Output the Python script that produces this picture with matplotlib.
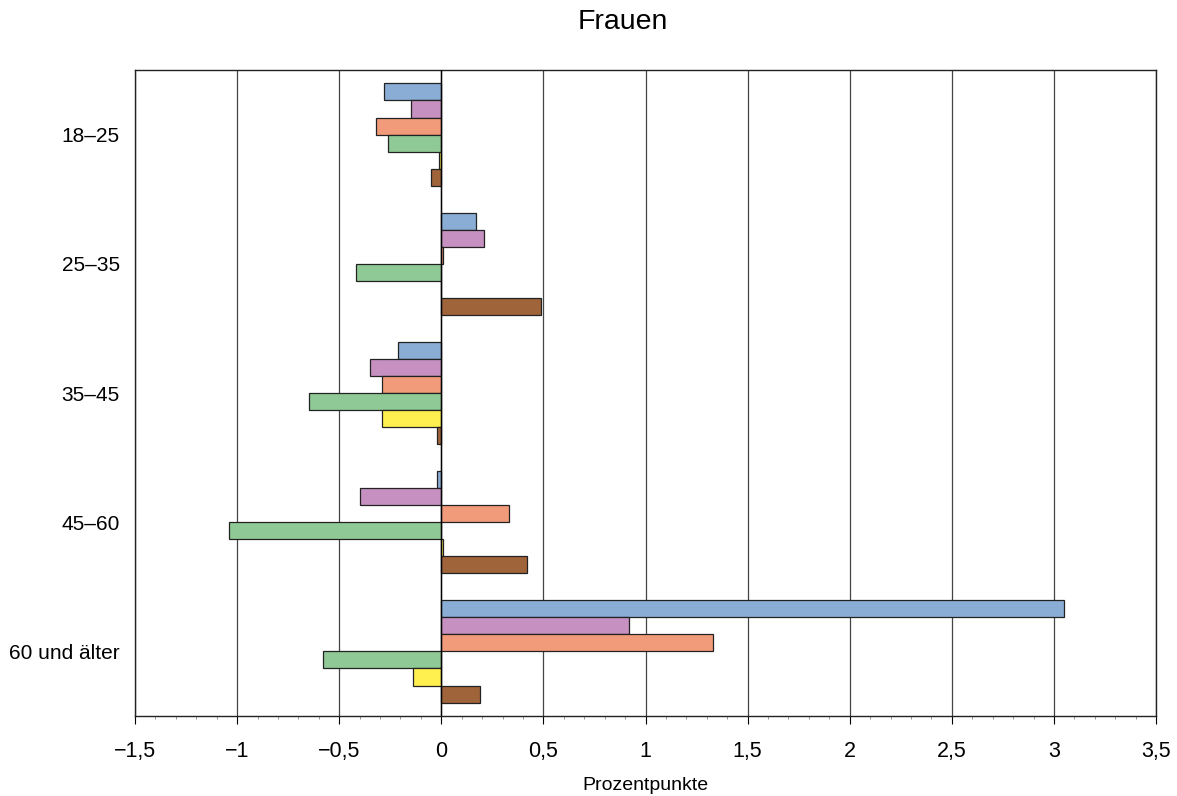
import numpy as np
import matplotlib.pyplot as plt
from matplotlib.ticker import FuncFormatter, MultipleLocator

plt.rcParams["font.family"] = ["Liberation Sans", "DejaVu Sans"]

# age groups, top to bottom
groups = ["18–25", "25–35", "35–45", "45–60", "60 und älter"]

# changes in percentage points, one list per series
blue = [-0.28, 0.17, -0.21, -0.02, 3.05]
pink = [-0.15, 0.21, -0.35, -0.40, 0.92]
orange = [-0.32, 0.01, -0.29, 0.33, 1.33]
green = [-0.26, -0.42, -0.65, -1.04, -0.58]
yellow = [-0.01, 0.0, -0.29, 0.01, -0.14]
brown = [-0.05, 0.49, -0.02, 0.42, 0.19]

series = [blue, pink, orange, green, yellow, brown]
colors = ["#8aadd6", "#c690c0", "#f29b7b", "#8fc995", "#fff04f", "#a0643a"]

fig = plt.figure(figsize=(11.77, 7.96), dpi=100)
ax = fig.add_axes([0.1147, 0.1005, 0.8675, 0.8115])

y = np.arange(len(groups))
h = 0.1323
for i, (vals, c) in enumerate(zip(series, colors)):
    offs = (i - 2.5) * h
    ax.barh(y + offs, vals, height=h, color=c, edgecolor="#222222",
            linewidth=0.9, zorder=3)

ax.set_xlim(-1.5, 3.5)
ax.set_ylim(4.5, -0.5)
ax.xaxis.set_major_locator(MultipleLocator(0.5))
ax.xaxis.set_minor_locator(MultipleLocator(0.1))
ax.xaxis.set_major_formatter(FuncFormatter(
    lambda v, p: ("%g" % v).replace(".", ",").replace("-", "\u2212")))
ax.grid(axis="x", color="#444444", linewidth=0.9, zorder=0)
ax.axvline(0, color="black", linewidth=1.0, zorder=4)

ax.set_yticks(y)
ax.set_yticklabels(groups, fontsize=15)
ax.tick_params(axis="y", length=0, pad=11)
ax.tick_params(axis="x", which="major", labelsize=15.5, length=6, direction="out", pad=12)
ax.tick_params(axis="x", which="minor", length=2, direction="out", color="#888888")

for s in ax.spines.values():
    s.set_color("#222222")
    s.set_linewidth(1.0)

ax.set_xlabel("Prozentpunkte", fontsize=14, labelpad=11)
fig.text(0.529, 0.972, "Frauen", fontsize=20.5, ha="center", va="center")

fig.savefig("out.png", dpi=100)
